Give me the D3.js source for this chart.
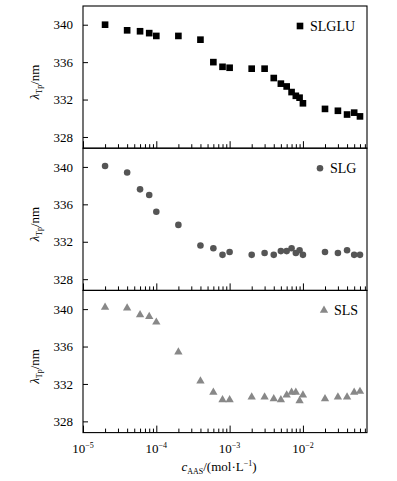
<!DOCTYPE html>
<html>
<head>
<meta charset="utf-8">
<script src="https://cdn.jsdelivr.net/npm/d3@7"></script>
<style>
  body { margin: 0; background: #fff; }
</style>
</head>
<body>
<div id="chart"></div>
<script>
// concentration of AAS (mol/L)
const conc = [2e-5, 4e-5, 6e-5, 8e-5, 1e-4, 2e-4, 4e-4, 6e-4, 8e-4, 1e-3,
  2e-3, 3e-3, 4e-3, 5e-3, 6e-3, 7e-3, 8e-3, 9e-3, 1e-2, 2e-2, 3e-2, 4e-2, 5e-2, 6e-2]

const slglu = [340.0, 339.4, 339.3, 339.1, 338.8, 338.8, 338.4, 336.0, 335.5, 335.4,
  335.3, 335.3, 334.3, 333.7, 333.4, 332.8, 332.4, 332.2, 331.6, 331.0, 330.8, 330.4, 330.6, 330.2]
const slg = [340.1, 339.4, 337.6, 337.0, 335.2, 333.8, 331.6, 331.3, 330.6, 330.9,
  330.6, 330.8, 330.6, 331.0, 331.0, 331.3, 330.8, 331.1, 330.6, 330.9, 330.8, 331.1, 330.6, 330.6]
const sls = [340.2, 340.1, 339.4, 339.2, 338.6, 335.4, 332.3, 331.1, 330.3, 330.3,
  330.6, 330.6, 330.4, 330.3, 330.8, 331.1, 331.1, 330.2, 330.8, 330.4, 330.6, 330.6, 331.1, 331.2]

const yTicks = [328, 332, 336, 340]
const xMajor = [1e-5, 1e-4, 1e-3, 1e-2]
const xExp = ['\u22125', '\u22124', '\u22123', '\u22122']

const panels = [
  { name: 'SLGLU', values: slglu, shape: d3.symbolSquare, color: '#000', size: 44 },
  { name: 'SLG', values: slg, shape: d3.symbolCircle, color: '#555', size: 34 },
  { name: 'SLS', values: sls, shape: d3.symbolTriangle, color: '#888', size: 30 }
]

const W = 397, H = 481
const mLeft = 83, mRight = 367, mTop = 6, panelH = 142.2
const FONT = '"Liberation Serif", "Times New Roman", Times, serif'

const svg = d3.select('#chart').append('svg')
  .attr('width', W)
  .attr('height', H)
  .style('font-family', FONT)

const x = d3.scaleLog().domain([1e-5, 0.0748]).range([mLeft, mRight])

// minor ticks
const xMinor = []
xMajor.forEach(m => { for (let k = 2; k <= 9; k++) if (m * k < 0.0748) xMinor.push(m * k) })

panels.forEach((p, i) => {
  const y0 = mTop + i * panelH
  const y = d3.scaleLinear().domain([326.8, 342.0]).range([y0 + panelH, y0])
  const g = svg.append('g')

  // frame
  g.append('rect')
    .attr('x', mLeft).attr('y', y0)
    .attr('width', mRight - mLeft).attr('height', panelH)
    .attr('fill', 'none').attr('stroke', '#000').attr('stroke-width', 1.1)

  // y axis
  const ya = g.append('g')
    .attr('transform', `translate(${mLeft},0)`)
    .call(d3.axisLeft(y).tickValues(yTicks).tickSize(-5).tickPadding(10))
  ya.attr('font-family', null).attr('font-size', null)
  ya.select('.domain').remove()
  ya.selectAll('text').style('font-size', '13px').style('font-family', FONT).attr('fill', '#000')
  ya.selectAll('line').attr('stroke', '#000')

  // x ticks (inward)
  const xa = g.append('g')
    .attr('transform', `translate(0,${y0 + panelH})`)
    .call(d3.axisBottom(x).tickValues(xMajor).tickSize(-7).tickFormat(''))
  xa.select('.domain').remove()
  xa.selectAll('line').attr('stroke', '#000')
  const xm = g.append('g')
    .attr('transform', `translate(0,${y0 + panelH})`)
    .call(d3.axisBottom(x).tickValues(xMinor).tickSize(-4).tickFormat(''))
  xm.select('.domain').remove()
  xm.selectAll('line').attr('stroke', '#000')

  // y title
  const yt = g.append('text')
    .attr('transform', `translate(39,${y0 + 76}) rotate(-90)`)
    .attr('text-anchor', 'middle')
    .style('font-family', FONT)
    .style('font-size', '13px')
  yt.append('tspan').style('font-style', 'italic').text('\u03bb')
  yt.append('tspan').attr('dy', 3).style('font-size', '8px').text('Tp')
  yt.append('tspan').attr('dy', -3).text('/nm')

  // points
  const sym = d3.symbol().type(p.shape).size(p.size)
  g.selectAll('.pt')
    .data(conc.map((c, j) => [c, p.values[j]]))
    .enter().append('path')
    .attr('class', 'pt')
    .attr('transform', d => `translate(${x(d[0])},${y(d[1])})`)
    .attr('d', sym)
    .attr('fill', p.color)

  // legend
  const lx = [300, 320, 324][i]
  g.append('path')
    .attr('transform', `translate(${lx},${y0 + 20})`)
    .attr('d', sym)
    .attr('fill', p.color)
  g.append('text')
    .attr('x', lx + 10).attr('y', y0 + 25)
    .style('font-family', FONT)
    .style('font-size', '14px')
    .text(p.name)
})

// x tick labels on bottom panel
const xb = mTop + 3 * panelH
xMajor.forEach((m, i) => {
  const t = svg.append('text')
    .attr('x', x(m)).attr('y', xb + 20)
    .attr('text-anchor', 'middle')
    .style('font-family', FONT)
    .style('font-size', '13px')
  t.append('tspan').text('10')
  t.append('tspan').attr('dy', -5).style('font-size', '8px').text(xExp[i])
})

// x title
const xt = svg.append('text')
  .attr('x', 219).attr('y', xb + 38)
  .attr('text-anchor', 'middle')
  .style('font-family', FONT)
  .style('font-size', '13px')
xt.append('tspan').style('font-style', 'italic').text('c')
xt.append('tspan').attr('dy', 3).style('font-size', '8px').text('AAS')
xt.append('tspan').attr('dy', -3).text('/(mol\u00b7L')
xt.append('tspan').attr('dy', -5).style('font-size', '8px').text('\u22121')
xt.append('tspan').attr('dy', 5).text(')')
</script>
</body>
</html>
